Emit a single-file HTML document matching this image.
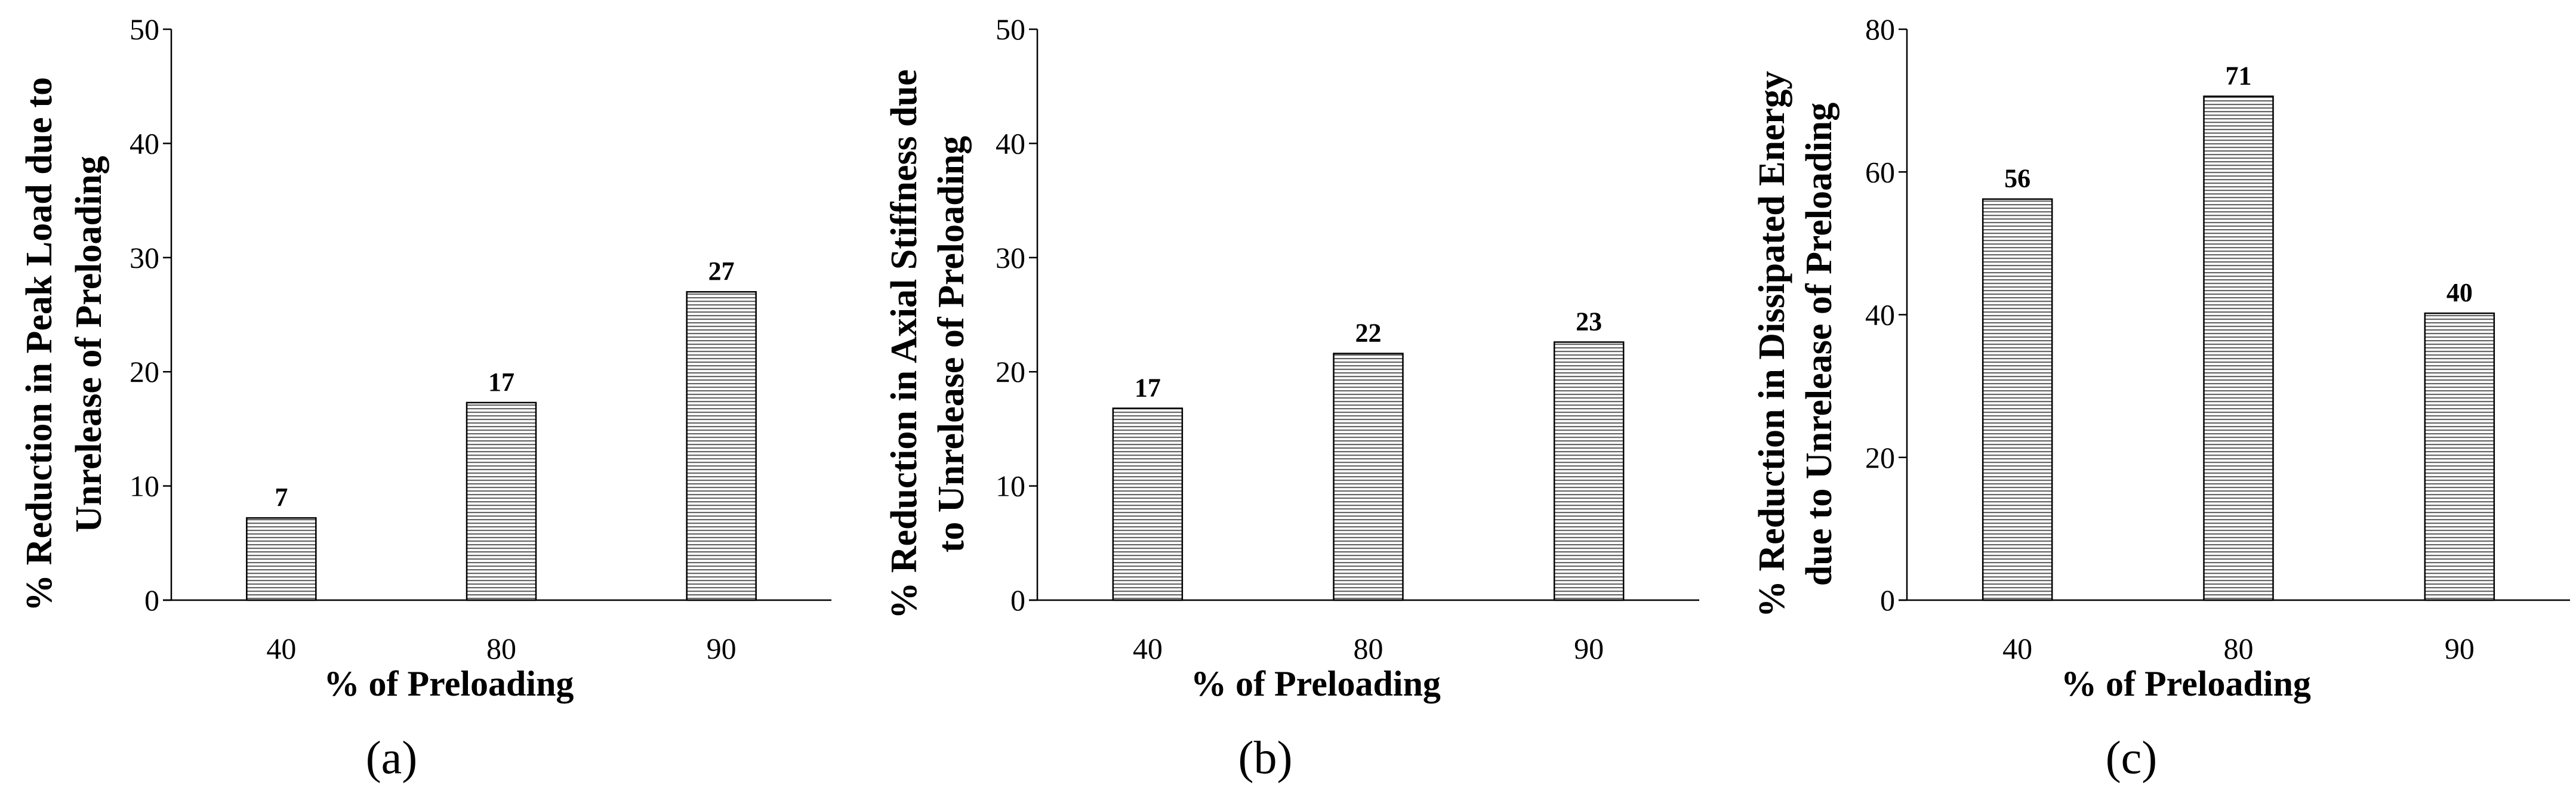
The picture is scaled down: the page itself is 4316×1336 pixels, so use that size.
<!DOCTYPE html>
<html><head><meta charset="utf-8">
<style>
html,body{margin:0;padding:0;background:#fff;}
svg{display:block;}
text{font-family:"Liberation Serif",serif;fill:#000;}
</style></head>
<body>
<svg id="fig" width="4316" height="1336" viewBox="0 0 4316 1336" xmlns="http://www.w3.org/2000/svg">
<defs>
<pattern id="hatch" patternUnits="userSpaceOnUse" width="8" height="6">
<rect width="8" height="6" fill="#fff"/>
<rect y="0" width="8" height="2.2" fill="#666"/>
</pattern>
</defs>
</svg>
<script>
const categories = ["40","80","90"];
const valuesA = [7.2, 17.3, 27];
const labelsA = ["7","17","27"];
const valuesB = [16.8, 21.6, 22.6];
const labelsB = ["17","22","23"];
const valuesC = [56.2, 70.6, 40.2];
const labelsC = ["56","71","40"];
const ticksA = [0,10,20,30,40,50];
const ticksB = [0,10,20,30,40,50];
const ticksC = [0,20,40,60,80];

const NS = "http://www.w3.org/2000/svg";
const svg = document.getElementById("fig");
function mk(tag, attrs, parent){
  const e = document.createElementNS(NS, tag);
  for (const k in attrs) e.setAttribute(k, attrs[k]);
  (parent||svg).appendChild(e);
  return e;
}
const panels = [
  {id:"a", x0:287, x1:1393, vals:valuesA, labs:labelsA, ticks:ticksA, max:50,
   t1:"% Reduction in Peak Load due to", t2:"Unrelease of Preloading", tx1:65, tx2:148, cap:"(a)", capx:656},
  {id:"b", x0:1738, x1:2847, vals:valuesB, labs:labelsB, ticks:ticksB, max:50,
   t1:"% Reduction in Axial Stiffness due", t2:"to Unrelease of Preloading", tx1:1514, tx2:1593, cap:"(b)", capx:2120},
  {id:"c", x0:3195, x1:4306, vals:valuesC, labs:labelsC, ticks:ticksC, max:80,
   t1:"% Reduction in Dissipated Energy", t2:"due to Unrelease of Preloading", tx1:2968, tx2:3047, cap:"(c)", capx:3571}
];
const yTop = 49, yBase = 1006;
panels.forEach(p => {
  const g = mk("g", {});
  
  
  const yScale = v => yBase - (v / p.max) * (yBase - yTop);
  const band = (p.x1 - p.x0) / categories.length;
  const xCenter = i => p.x0 + band * (i + 0.5);
  const ya = mk("line", {x1:p.x0, y1:yTop, x2:p.x0, y2:yBase, stroke:"#000", "stroke-width":2.5}, g);
  
  
  const xa = mk("line", {x1:p.x0-14, y1:yBase, x2:p.x1, y2:yBase, stroke:"#000", "stroke-width":2.5}, g);
  
  
  p.ticks.forEach(t => {
    const y = yScale(t);
    mk("line", {x1:p.x0-14, y1:y, x2:p.x0, y2:y, stroke:"#000", "stroke-width":2.5}, g);
    const tl = mk("text", {x:p.x0-20, y:y+17, "text-anchor":"end", "font-size":50}, g);
    tl.textContent = t;
    
    
  });
  const bw = 116;
  categories.forEach((c, i) => {
    const cx = xCenter(i);
    const y = yScale(p.vals[i]);
    const r = mk("rect", {x:cx-bw/2, y:y, width:bw, height:yBase-y, fill:"url(#hatch)", stroke:"#000", "stroke-width":2.5}, g);
    
    
    const vl = mk("text", {x:cx, y:y-20, "text-anchor":"middle", "font-size":44, "font-weight":"bold"}, g);
    vl.textContent = p.labs[i];
    
    
    const xl = mk("text", {x:cx, y:1104, "text-anchor":"middle", "font-size":50}, g);
    xl.textContent = c;
    
    
  });
  const xt = mk("text", {x:(p.x0+p.x1)/2 - 88, y:1166, "text-anchor":"middle", "font-size":60, "font-weight":"bold"}, g);
  xt.textContent = "% of Preloading";
  
  
  const yc = 577;
  const t1 = mk("text", {x:0, y:0, "text-anchor":"middle", "font-size":62, "font-weight":"bold", transform:`translate(${p.tx1+21},${yc}) rotate(-90)`}, g);
  t1.textContent = p.t1;
  
  
  const t2 = mk("text", {x:0, y:0, "text-anchor":"middle", "font-size":62, "font-weight":"bold", transform:`translate(${p.tx2+21},${yc}) rotate(-90)`}, g);
  t2.textContent = p.t2;
  
  
  const cap = mk("text", {x:p.capx, y:1296, "text-anchor":"middle", "font-size":78}, g);
  cap.textContent = p.cap;
  
  
});
</script>
</body></html>
